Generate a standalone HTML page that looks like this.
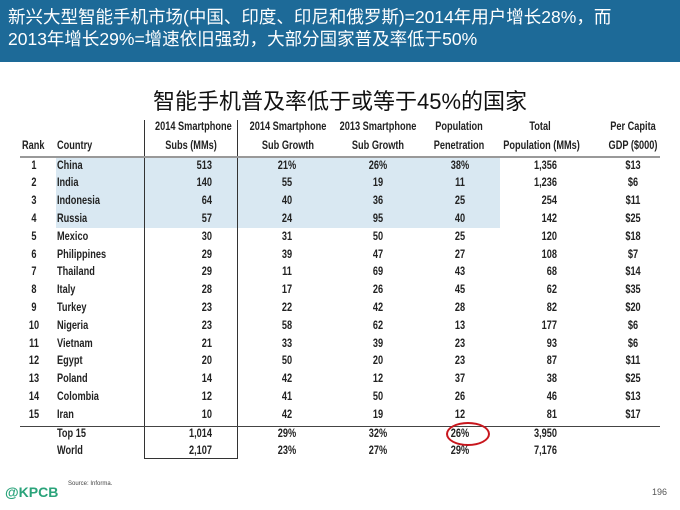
<!DOCTYPE html><html><head><meta charset="utf-8"><style>
body{margin:0;width:680px;height:510px;background:#fff;position:relative;overflow:hidden;font-family:"Liberation Sans","Noto Sans CJK SC",sans-serif}
.hd{position:absolute;left:0;top:0;width:680px;height:62px;background:#1d6a98;color:#fff;font-size:17.5px;line-height:22px;padding:6px 0 0 8px;box-sizing:border-box}
.t{position:absolute;left:0;width:680px;top:84px;text-align:center;font-size:22px;color:#111}
.c{position:absolute;font-size:11.5px;font-weight:bold;color:#222;white-space:nowrap;transform:scaleX(0.8);transform-origin:left center}
.r{text-align:right;transform-origin:right center}.m{text-align:center;transform-origin:center center}
</style></head><body>
<div class="hd">新兴大型智能手机市场(中国、印度、印尼和俄罗斯)=2014年用户增长28%，而<br>2013年增长29%=增速依旧强劲，大部分国家普及率低于50%</div>
<div class="t">智能手机普及率低于或等于45%的国家</div>
<div style="position:absolute;left:56px;top:157px;width:444px;height:71px;background:#d9e8f2"></div>
<div style="position:absolute;left:144px;top:120px;width:92px;height:338px;border:1px solid #333;border-top:none;border-left:1px solid #333"></div>
<div style="position:absolute;left:20px;top:156px;width:640px;height:2px;background:#999"></div>
<div style="position:absolute;left:20px;top:426px;width:640px;height:1px;background:#444"></div>
<div style="position:absolute;left:446px;top:422px;width:40px;height:20px;border:2px solid #c8161d;border-radius:50%"></div>
<div id="tb"></div>
<div style="position:absolute;left:5px;top:484px;color:#2aa37a;font-size:14px;font-weight:bold">@KPCB</div>
<div style="position:absolute;left:68px;top:481px;font-size:6px;color:#444">Source: Informa.</div>
<div style="position:absolute;left:652px;top:487px;font-size:9px;color:#555">196</div>
<script>
var rows=[["1","China","513","21%","26%","38%","1,356","$13"],["2","India","140","55","19","11","1,236","$6"],["3","Indonesia","64","40","36","25","254","$11"],["4","Russia","57","24","95","40","142","$25"],["5","Mexico","30","31","50","25","120","$18"],["6","Philippines","29","39","47","27","108","$7"],["7","Thailand","29","11","69","43","68","$14"],["8","Italy","28","17","26","45","62","$35"],["9","Turkey","23","22","42","28","82","$20"],["10","Nigeria","23","58","62","13","177","$6"],["11","Vietnam","21","33","39","23","93","$6"],["12","Egypt","20","50","20","23","87","$11"],["13","Poland","14","42","12","37","38","$25"],["14","Colombia","12","41","50","26","46","$13"],["15","Iran","10","42","19","12","81","$17"],["","Top 15","1,014","29%","32%","26%","3,950",""],["","World","2,107","23%","27%","29%","7,176",""]];
var h="";function c(x,y,w,cl,t){h+='<div class="c '+cl+'" style="left:'+x+'px;top:'+y+'px;width:'+w+'px">'+t+'</div>';}
var hx=[[146,90,"2014 Smartphone","Subs (MMs)"],[238,100,"2014 Smartphone","Sub Growth"],[330,96,"2013 Smartphone","Sub Growth"],[424,70,"Population","Penetration"],[494,92,"Total","Population (MMs)"],[590,86,"Per Capita","GDP ($000)"]];
hx.forEach(function(a){c(a[0],121,a[1],"m",a[2]);c(a[0],140,a[1],"m",a[3]);});
c(22,140,30,"","Rank");c(57,140,60,"","Country");
rows.forEach(function(r,i){var y=159.5+i*17.8+(i>14?1:0);c(22,y,24,"m",r[0]);c(57,y,80,"",r[1]);c(150,y,62,"r",r[2]);c(257,y,60,"m",r[3]);c(348,y,60,"m",r[4]);c(436,y,48,"m",r[5]);c(500,y,57,"r",r[6]);c(600,y,66,"m",r[7]);});
document.getElementById("tb").innerHTML=h;
</script>
</body></html>
